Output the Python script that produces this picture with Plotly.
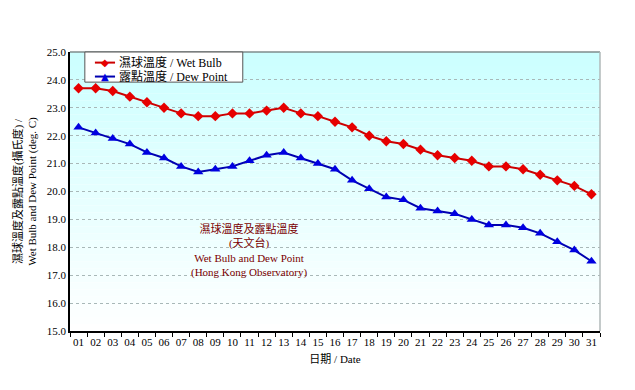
import plotly.graph_objects as go

days = ["%02d" % d for d in range(1, 32)]
wet_bulb = [23.7, 23.7, 23.6, 23.4, 23.2, 23.0, 22.8, 22.7, 22.7, 22.8, 22.8, 22.9, 23.0, 22.8, 22.7, 22.5,
            22.3, 22.0, 21.8, 21.7, 21.5, 21.3, 21.2, 21.1, 20.9, 20.9, 20.8, 20.6, 20.4, 20.2, 19.9]
dew_point = [22.3, 22.1, 21.9, 21.7, 21.4, 21.2, 20.9, 20.7, 20.8, 20.9, 21.1, 21.3, 21.4, 21.2, 21.0, 20.8,
             20.4, 20.1, 19.8, 19.7, 19.4, 19.3, 19.2, 19.0, 18.8, 18.8, 18.7, 18.5, 18.2, 17.9, 17.5]
y_ticks = [15 + i for i in range(11)]

serif = "Liberation Serif, Noto Sans CJK TC, serif"
RED_LINE, RED_MK = "#cc0000", "#e60000"
BLUE_LINE, BLUE_MK = "#0000b0", "#0000e0"

fig = go.Figure()

fig.add_trace(go.Scatter(
    x=days, y=wet_bulb, name="濕球溫度 / Wet Bulb", mode="lines+markers",
    line=dict(color=RED_LINE, width=2),
    marker=dict(symbol="diamond", size=8, color=RED_MK),
))
fig.add_trace(go.Scatter(
    x=days, y=dew_point, name="露點溫度 / Dew Point", mode="lines+markers",
    line=dict(color=BLUE_LINE, width=2),
    marker=dict(symbol="triangle-up", size=9, color=BLUE_MK),
))

# vertical gradient background: light cyan at top to white at bottom
n = 40
shapes = []
for i in range(n):
    t = i / (n - 1)
    r = int(0xcc + (255 - 0xcc) * t)
    shapes.append(dict(
        type="rect", xref="x domain", yref="y domain", layer="below",
        x0=0, x1=1, y0=1 - (i + 1) / n, y1=1 - i / n,
        fillcolor="rgb(%d,255,255)" % r, line=dict(width=0),
    ))
# top and right frame
shapes.append(dict(type="line", xref="x domain", yref="y domain", x0=0, x1=1, y0=1, y1=1,
                   line=dict(color="#7f8c8c", width=1.5)))
shapes.append(dict(type="line", xref="x domain", yref="y domain", x0=1, x1=1, y0=0, y1=1,
                   line=dict(color="#b0b8b8", width=1.5)))

# compact legend box (plotly's own legend rows are too tall here)
shapes.append(dict(type="rect", xref="paper", yref="paper", x0=0.028, x1=0.326, y0=0.892, y1=1.0,
                   fillcolor="white", line=dict(color="#555555", width=1)))
annotations = []
for tr, yy, glyph in [(fig.data[0], 0.962, "◆"), (fig.data[1], 0.912, "▲")]:
    shapes.append(dict(type="line", xref="paper", yref="paper", x0=0.047, x1=0.085, y0=yy, y1=yy,
                       line=dict(color=tr.line.color, width=2)))
    annotations.append(dict(xref="paper", yref="paper", x=0.066, y=yy, xanchor="center", yanchor="middle",
                            showarrow=False, text=glyph,
                            font=dict(family="DejaVu Sans", size=10, color=tr.marker.color)))
    annotations.append(dict(xref="paper", yref="paper", x=0.089, y=yy, xanchor="left", yanchor="middle",
                            showarrow=False, text=tr.name,
                            font=dict(family=serif, size=12, color="black")))

annotations.append(dict(
    xref="paper", yref="paper", x=0.338, y=0.29, xanchor="center", yanchor="middle",
    showarrow=False, align="center",
    text="濕球溫度及露點溫度<br>(天文台)<br>Wet Bulb and Dew Point<br>(Hong Kong Observatory)",
    font=dict(family=serif, size=11, color="#7a0000"),
))

fig.update_layout(
    width=627, height=382,
    margin=dict(l=62, r=35, t=44, b=59),
    paper_bgcolor="white", plot_bgcolor="white",
    shapes=shapes, annotations=annotations,
    showlegend=False,
    font=dict(family=serif, size=11, color="black"),
    xaxis=dict(
        type="category", range=[-0.5, 30.5], automargin=False, tickangle=0,
        showline=True, linecolor="black", linewidth=1.5,
        ticks="outside", ticklen=4, tickcolor="black", tickson="boundaries",
        showgrid=False, tickfont=dict(size=11, family=serif),
        title=dict(text="日期 / Date", font=dict(size=11, family=serif), standoff=8),
    ),
    yaxis=dict(
        range=[15, 25], tickvals=y_ticks, ticktext=["%.1f" % v for v in y_ticks], automargin=False,
        showline=True, linecolor="black", linewidth=1.5,
        showgrid=True, gridcolor="#a8b8b8", griddash="dot", gridwidth=1,
        zeroline=False, tickfont=dict(size=11, family=serif),
        title=dict(text="濕球溫度及露點溫度(攝氏度) /<br>Wet Bulb and Dew Point (deg. C)",
                   font=dict(size=11, family=serif), standoff=8),
    ),
)

fig.write_html("out.html")
